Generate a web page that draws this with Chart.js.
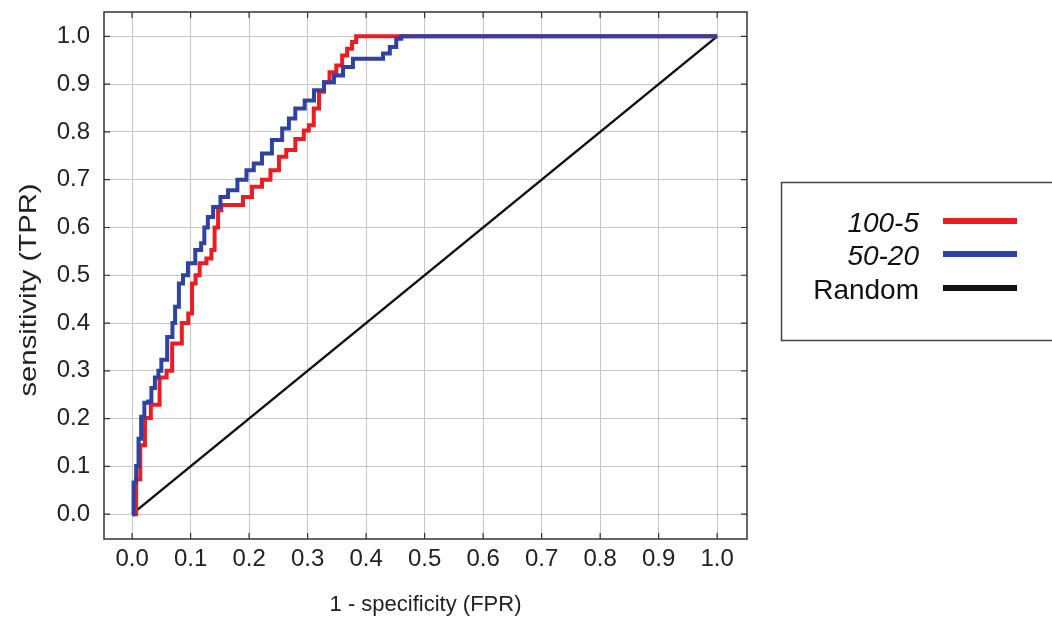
<!DOCTYPE html>
<html>
<head>
<meta charset="utf-8">
<script src="https://cdn.jsdelivr.net/npm/chart.js@4"></script>
<style>
  html, body { margin: 0; padding: 0; background: #fff; }
  canvas { display: block; }
</style>
</head>
<body>
<canvas id="roc" width="1052" height="626"></canvas>
<script>
// ROC curves of the two models plus the chance diagonal
const fpr100 = [0, 0.003, 0.011, 0.017, 0.027, 0.037, 0.057, 0.061, 0.076, 0.094, 0.098, 0.107, 0.110, 0.121,
  0.133, 0.138, 0.144, 0.150, 0.155, 0.184, 0.195, 0.215, 0.229, 0.244, 0.258, 0.269, 0.289, 0.298, 0.306,
  0.315, 0.324, 0.332, 0.343, 0.355, 0.363, 0.372, 0.380, 0.386, 1.0];
const tpr100 = [0, 0, 0.073, 0.144, 0.201, 0.229, 0.286, 0.300, 0.357, 0.400, 0.420, 0.483, 0.500, 0.525,
  0.535, 0.553, 0.600, 0.636, 0.647, 0.647, 0.664, 0.685, 0.700, 0.720, 0.748, 0.762, 0.785, 0.803, 0.814,
  0.849, 0.884, 0.904, 0.925, 0.939, 0.960, 0.974, 0.988, 1.0, 1.0];

const fpr50 = [0, 0.005, 0.009, 0.013, 0.018, 0.024, 0.031, 0.035, 0.043, 0.047, 0.053, 0.067, 0.071, 0.076,
  0.084, 0.090, 0.101, 0.115, 0.121, 0.126, 0.133, 0.144, 0.158, 0.170, 0.190, 0.201, 0.215, 0.229, 0.249,
  0.264, 0.272, 0.286, 0.304, 0.318, 0.338, 0.352, 0.369, 0.386, 0.423, 0.435, 0.446, 0.457, 0.463, 1.0];
const tpr50 = [0, 0.066, 0.101, 0.158, 0.204, 0.233, 0.236, 0.264, 0.286, 0.300, 0.323, 0.371, 0.400, 0.434,
  0.483, 0.500, 0.525, 0.553, 0.567, 0.600, 0.622, 0.643, 0.664, 0.678, 0.700, 0.720, 0.734, 0.755, 0.783,
  0.807, 0.828, 0.849, 0.866, 0.887, 0.904, 0.918, 0.936, 0.953, 0.953, 0.964, 0.978, 0.995, 1.0, 1.0];

const randomFpr = [0, 1];
const randomTpr = [0, 1];

const tickValues = [0, 0.1, 0.2, 0.3, 0.4, 0.5, 0.6, 0.7, 0.8, 0.9, 1.0];
const yTitle = "sensitivity (TPR)";

const FONT = "'Liberation Sans', Arial, sans-serif";
const toPoints = (xs, ys) => xs.map((x, i) => ({ x, y: ys[i] }));

// box round the plot area with short inward ticks on all four sides
const framePlugin = {
  id: "frame",
  afterDraw(chart) {
    const { ctx, chartArea: a, scales } = chart;
    ctx.save();
    ctx.strokeStyle = "#333";
    ctx.lineWidth = 1.5;
    ctx.strokeRect(a.left, a.top, a.right - a.left, a.bottom - a.top);
    ctx.lineWidth = 1.2;
    ctx.beginPath();
    tickValues.forEach(v => {
      const px = scales.x.getPixelForValue(v);
      ctx.moveTo(px, a.bottom); ctx.lineTo(px, a.bottom - 6);
      ctx.moveTo(px, a.top); ctx.lineTo(px, a.top + 6);
      const py = scales.y.getPixelForValue(v);
      ctx.moveTo(a.left, py); ctx.lineTo(a.left + 6, py);
      ctx.moveTo(a.right, py); ctx.lineTo(a.right - 6, py);
    });
    ctx.stroke();
    // vertical axis title, stretched a little along its length
    ctx.translate(29, 290);
    ctx.rotate(-Math.PI / 2);
    ctx.scale(1.22, 1);
    ctx.font = "24px " + FONT;
    ctx.fillStyle = "#222";
    ctx.textAlign = "center";
    ctx.textBaseline = "middle";
    ctx.fillText(yTitle, 0, 0);
    ctx.restore();
  }
};

// legend box on the right: label right-aligned, line sample after it
const sideLegend = {
  id: "sideLegend",
  afterDraw(chart) {
    const { ctx } = chart;
    ctx.save();
    ctx.strokeStyle = "#444";
    ctx.lineWidth = 1.5;
    ctx.strokeRect(781.5, 182.5, 300, 158);
    const rows = [232, 265, 299];
    chart.data.datasets.forEach((ds, i) => {
      const base = rows[i];
      ctx.font = (ds.legendItalic ? "italic " : "") + "28px " + FONT;
      ctx.fillStyle = "#111";
      ctx.textAlign = "right";
      ctx.textBaseline = "alphabetic";
      ctx.fillText(ds.label, 919, base);
      ctx.strokeStyle = ds.borderColor;
      ctx.lineWidth = 6;
      ctx.beginPath();
      ctx.moveTo(943, base - 11);
      ctx.lineTo(1017, base - 11);
      ctx.stroke();
    });
    ctx.restore();
  }
};

const axisTicks = scale => { scale.ticks = tickValues.map(v => ({ value: v })); };

new Chart(document.getElementById("roc"), {
  type: "line",
  data: {
    datasets: [
      { label: "100-5", data: toPoints(fpr100, tpr100), borderColor: "#ec1c24",
        borderWidth: 4, stepped: "middle", pointRadius: 0, order: 1, legendItalic: true },
      { label: "50-20", data: toPoints(fpr50, tpr50), borderColor: "#2e42a2",
        borderWidth: 4, stepped: "middle", pointRadius: 0, order: 0, legendItalic: true },
      { label: "Random", data: toPoints(randomFpr, randomTpr), borderColor: "#111",
        borderWidth: 2.5, pointRadius: 0, order: 2 },
    ],
  },
  options: {
    responsive: false,
    animation: false,
    layout: { padding: { top: 12, right: 305, left: 0, bottom: 0 } },
    plugins: { legend: { display: false }, tooltip: { enabled: false } },
    scales: {
      x: {
        type: "linear", min: -0.048, max: 1.051,
        afterBuildTicks: axisTicks,
        afterFit: s => { s.height = 87; },
        grid: { color: "#c6c6c6", lineWidth: 1, drawTicks: false },
        border: { display: false },
        ticks: { padding: 6, color: "#222", font: { family: FONT, size: 24 },
          callback: v => v.toFixed(1) },
        title: { display: true, text: "1 - specificity (FPR)", color: "#222",
          font: { family: FONT, size: 22 }, padding: { top: 0, bottom: 8 } },
      },
      y: {
        type: "linear", min: -0.052, max: 1.051,
        afterBuildTicks: axisTicks,
        afterFit: s => { s.width = 104; s.paddingTop = 0; s.paddingBottom = 0; },
        grid: { color: "#c6c6c6", lineWidth: 1, drawTicks: false },
        border: { display: false },
        ticks: { padding: 14, color: "#222", font: { family: FONT, size: 24 },
          callback: v => v.toFixed(1) },
      },
    },
  },
  plugins: [framePlugin, sideLegend],
});
</script>
</body>
</html>
